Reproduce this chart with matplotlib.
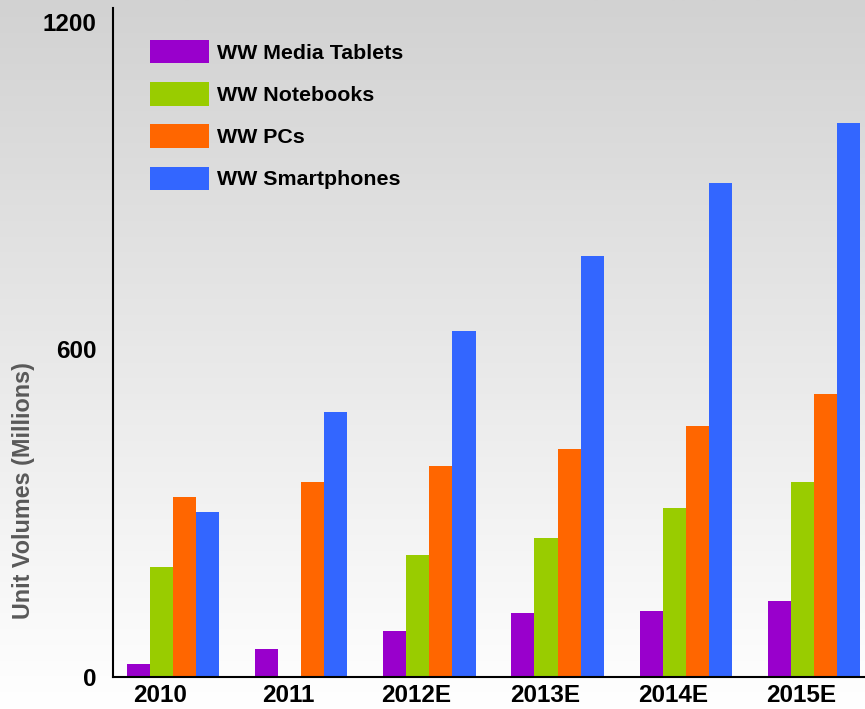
import numpy as np
import matplotlib
matplotlib.use("Agg")
from matplotlib import pyplot as plt
from matplotlib.colors import LinearSegmentedColormap

years = ["2010", "2011", "2012E", "2013E", "2014E", "2015E"]
series = ["WW Media Tablets", "WW Notebooks", "WW PCs", "WW Smartphones"]
tablets = [24, 51, 84, 117, 121, 139]
notebooks = [201, 0, 224, 255, 310, 357]
pcs = [330, 357, 387, 418, 460, 518]
smartphones = [302, 486, 634, 771, 905, 1015]
yticks = [0, 600, 1200]

colors = ["#9900cc", "#99cc00", "#ff6600", "#3366ff"]

plt.rcParams['font.family'] = ['Liberation Sans', 'DejaVu Sans']
plt.rcParams['font.weight'] = 'bold'

fig = plt.figure(figsize=(8.65, 7.09), dpi=100)

# gradient background over the whole figure
bg = fig.add_axes([0, 0, 1, 1], zorder=0)
grad = np.linspace(0, 1, 256).reshape(-1, 1)
cmap = LinearSegmentedColormap.from_list("bg", ["#d2d2d2", "#ffffff"])
bg.imshow(grad, aspect="auto", cmap=cmap, extent=[0, 1, 1, 0])
bg.axis("off")

ax = fig.add_axes([113 / 865, 32 / 709, 752 / 865, 669 / 709], zorder=1)
ax.patch.set_alpha(0)

x = np.arange(len(years))
w = 0.18
data = [tablets, notebooks, pcs, smartphones]
for i, (vals, name, c) in enumerate(zip(data, series, colors)):
    ax.bar(x + (i - 1.5) * w, vals, width=w, color=c, label=name, linewidth=0)

ax.set_xlim(-0.47, 5.40)
ax.set_ylim(0, 1225)
ax.set_yticks(yticks)
ax.set_xticks(x - 0.1)
ax.set_xticklabels(years)
ax.tick_params(axis="both", length=0, labelsize=17.5, colors="black")
ax.tick_params(axis="y", pad=12)
ax.tick_params(axis="x", pad=5)
for s in ["top", "right"]:
    ax.spines[s].set_visible(False)
for s in ["left", "bottom"]:
    ax.spines[s].set_linewidth(1.5)
    ax.spines[s].set_color("black")

fig.text(24 / 865, 1 - 491 / 709, "Unit Volumes (Millions)", rotation=90,
         ha="center", va="center", fontsize=16.8, color="#595959", fontweight="bold")

leg = ax.legend(loc="upper left", bbox_to_anchor=(0.049, 0.952), frameon=False,
                fontsize=15.4, handlelength=2.76, handleheight=1.3, labelspacing=0.88,
                handletextpad=0.37, borderpad=0, borderaxespad=0)

fig.savefig("out.png", dpi=100)
